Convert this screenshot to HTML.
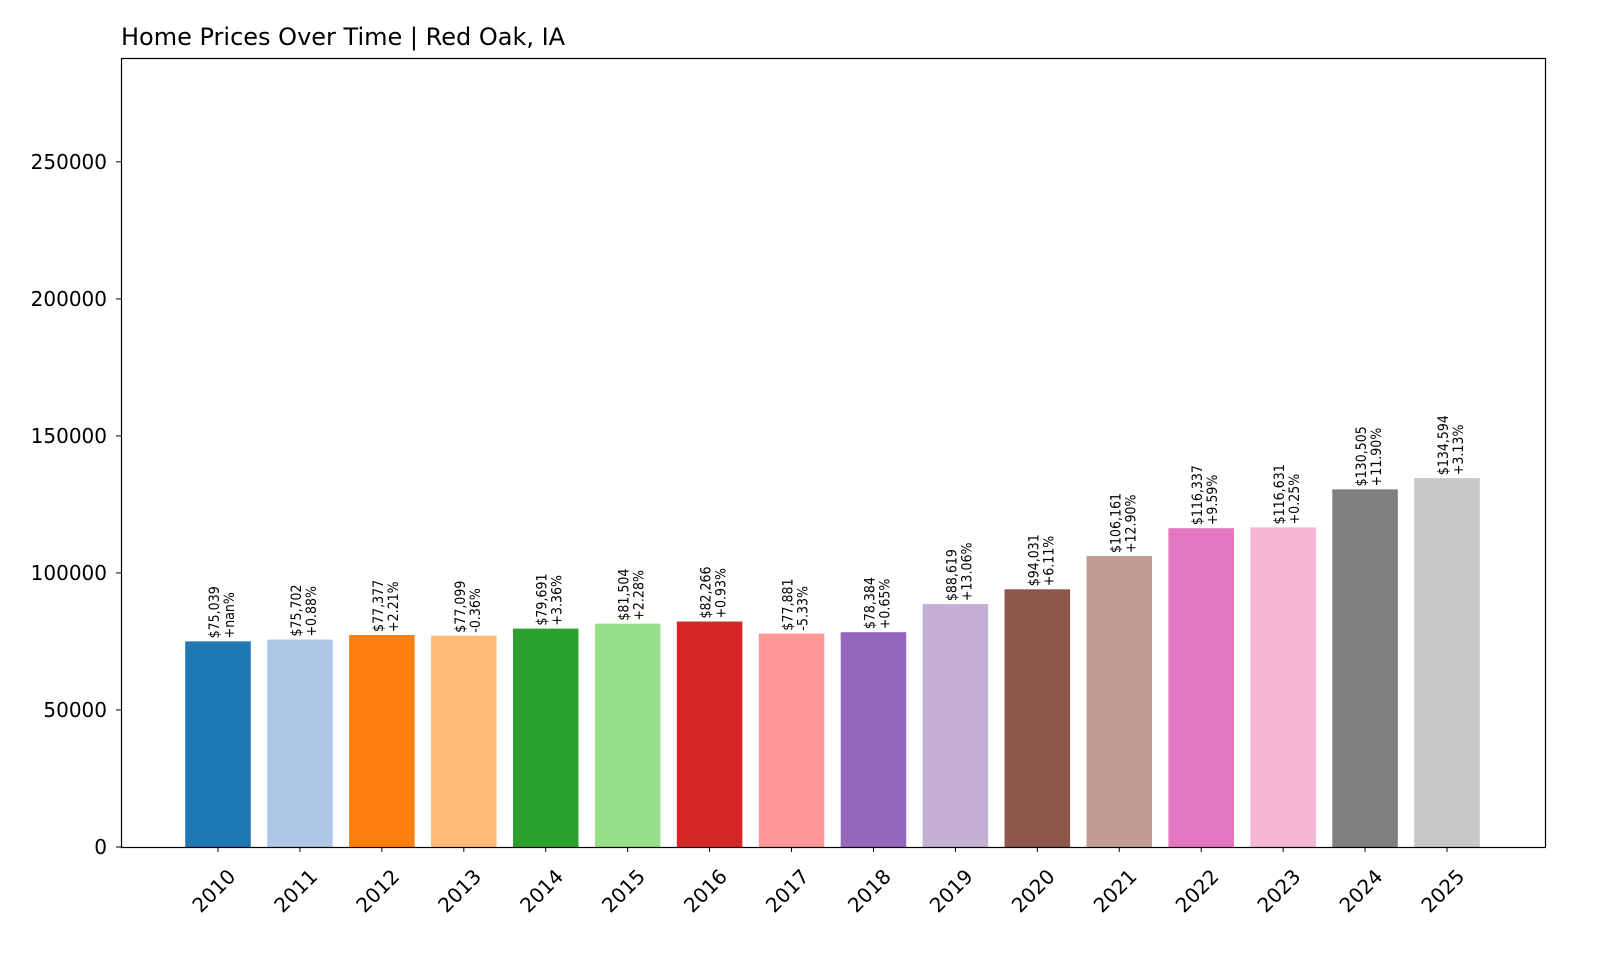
<!DOCTYPE html>
<html><head><meta charset="utf-8"><style>
body{margin:0;background:#fff;}
svg{display:block;font-family:"DejaVu Sans","Liberation Sans",sans-serif;}
</style></head><body>
<svg id="chart" width="1600" height="960" viewBox="0 0 1600 960">
<text x="121" y="45" font-size="24" fill="#000">Home Prices Over Time | Red Oak, IA</text>
<g id="bars"></g>
<g id="yaxis"></g>
<g id="xaxis"></g>
<rect x="121.5" y="58.5" width="1424" height="789" fill="none" stroke="#000" stroke-width="1.2"/>
</svg>
<script>
const years=["2010","2011","2012","2013","2014","2015","2016","2017","2018","2019","2020","2021","2022","2023","2024","2025"];
const prices=[75039,75702,77377,77099,79691,81504,82266,77881,78384,88619,94031,106161,116337,116631,130505,134594];
const pctLabels=["+nan%","+0.88%","+2.21%","-0.36%","+3.36%","+2.28%","+0.93%","-5.33%","+0.65%","+13.06%","+6.11%","+12.90%","+9.59%","+0.25%","+11.90%","+3.13%"];
const yTicks=[0,50000,100000,150000,200000,250000];
const colors=["#1f77b4","#aec7e8","#ff7f0e","#ffbb78","#2ca02c","#98df8a","#d62728","#ff9896","#9467bd","#c5b0d5","#8c564b","#c49c94","#e377c2","#f7b6d2","#7f7f7f","#c7c7c7"];
const NS="http://www.w3.org/2000/svg";
const x0=121,x1=1545,yb=847,yt=58,ymax=287900;
const y=v=>yb-(v/ymax)*(yb-yt);
const step=(1447-218)/15;
const xc=i=>218+i*step;
const bw=step*0.8;
function mk(t,a){const e=document.createElementNS(NS,t);for(const k in a)e.setAttribute(k,a[k]);return e;}
const gb=document.getElementById('bars'),gy=document.getElementById('yaxis'),gx=document.getElementById('xaxis');
prices.forEach((p,i)=>{
  const r=mk('rect',{x:xc(i)-bw/2,y:y(p),width:bw,height:yb-y(p),fill:colors[i]});
  
  
  gb.appendChild(r);
  const ty=y(p)-3;
  const t=mk('text',{transform:`translate(${xc(i)+1},${ty}) rotate(-90)`,'font-size':'14','font-stretch':'condensed',fill:'#000'});
  
  
  const s1=mk('tspan',{x:0,y:0});s1.textContent='$'+p.toLocaleString('en-US');
  const s2=mk('tspan',{x:0,y:15});s2.textContent=pctLabels[i];
  t.appendChild(s1);t.appendChild(s2);gb.appendChild(t);
  const tk=mk('line',{x1:xc(i),x2:xc(i),y1:yb,y2:yb+5,stroke:'#000'});
  
  
  gx.appendChild(tk);
  const lx=xc(i)+8,ly=yb+20;
  const lt=mk('text',{transform:`translate(${lx},${ly}) rotate(-45)`,'text-anchor':'end','dominant-baseline':'hanging','font-size':'20',fill:'#000'});
  
  
  lt.textContent=years[i];gx.appendChild(lt);
});
yTicks.forEach(v=>{
  const tk=mk('line',{x1:x0-5,x2:x0,y1:y(v),y2:y(v),stroke:'#000'});
  
  
  gy.appendChild(tk);
  const t=mk('text',{x:x0-14,y:y(v)+7,'text-anchor':'end','font-size':'20',fill:'#000'});
  
  
  t.textContent=v;gy.appendChild(t);
});
</script>
</body></html>
